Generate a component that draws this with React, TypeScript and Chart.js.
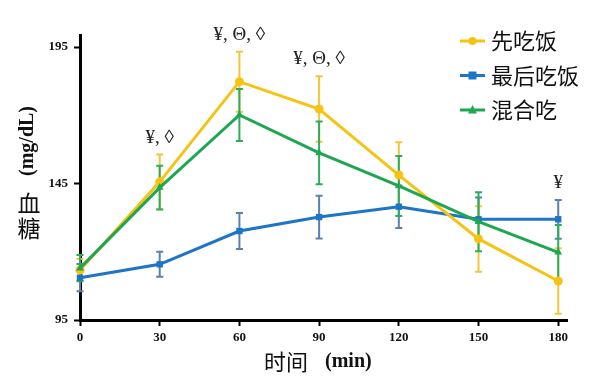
import { useEffect, useRef } from 'react';
import { Chart, registerables } from 'chart.js';
Chart.register(...registerables);

const timePoints = [0, 30, 60, 90, 120, 150, 180];
const yTicks = [95, 145, 195];
const seriesNames = ['先吃饭', '最后吃饭', '混合吃'];
const riceFirst = [113.3, 145.6, 182.3, 172.3, 148.1, 124.7, 109.3];
const riceFirstErr = [4, 10, 11, 12, 12, 12, 12];
const riceLast = [110.5, 115.4, 127.6, 132.7, 136.5, 131.9, 131.9];
const riceLastErr = [5, 4.6, 6.6, 7.8, 7.8, 8, 7.1];
const mixed = [114, 143.5, 170.1, 156.2, 144.1, 131, 119.8];
const mixedErr = [4.8, 8, 9.5, 11.5, 11, 10.8, 10];
const sigLabels = ['', '¥, ◊', '¥, Θ, ◊', '¥, Θ, ◊', '', '', '¥'];

const COLORS = ['#F5C314', '#1C75C6', '#1EA650'];
const ERR_COLORS = ['#F2C63A', '#5A7FB0', '#2BAE5C'];
const SHAPES = ['circle', 'rect', 'triangle'];
const SERIES = [riceFirst, riceLast, mixed];
const ERRS = [riceFirstErr, riceLastErr, mixedErr];

const SERIF = '"Liberation Serif", "Times New Roman", serif';
const CJK = '"Noto Sans CJK SC", "Noto Sans", sans-serif';

function drawMarker(ctx: CanvasRenderingContext2D, shape: string, x: number, y: number, color: string) {
  ctx.save();
  ctx.fillStyle = color;
  ctx.beginPath();
  if (shape === 'circle') {
    ctx.arc(x, y, 4, 0, Math.PI * 2);
  } else if (shape === 'rect') {
    ctx.rect(x - 4, y - 4, 8, 8);
  } else {
    ctx.moveTo(x, y - 5);
    ctx.lineTo(x + 4.5, y + 3.5);
    ctx.lineTo(x - 4.5, y + 3.5);
    ctx.closePath();
  }
  ctx.fill();
  ctx.restore();
}

const errorBarPlugin = {
  id: 'errorBars',
  beforeDatasetsDraw(chart: any) {
    const ctx = chart.ctx as CanvasRenderingContext2D;
    const xs = chart.scales.x;
    const ys = chart.scales.y;
    const drawOrder = [1, 0, 2];
    ctx.save();
    drawOrder.forEach((si) => {
      ctx.strokeStyle = ERR_COLORS[si];
      ctx.lineWidth = 2;
      SERIES[si].forEach((v, i) => {
        const x = xs.getPixelForValue(timePoints[i]);
        const top = ys.getPixelForValue(v + ERRS[si][i]);
        const bot = ys.getPixelForValue(v - ERRS[si][i]);
        ctx.beginPath();
        ctx.moveTo(x, top);
        ctx.lineTo(x, bot);
        ctx.moveTo(x - 3.5, top);
        ctx.lineTo(x + 3.5, top);
        ctx.moveTo(x - 3.5, bot);
        ctx.lineTo(x + 3.5, bot);
        ctx.stroke();
      });
    });
    ctx.restore();
  },
};

const decorPlugin = {
  id: 'decor',
  afterDraw(chart: any) {
    const ctx = chart.ctx as CanvasRenderingContext2D;
    const xs = chart.scales.x;
    const ys = chart.scales.y;
    ctx.save();
    // significance labels
    ctx.fillStyle = '#222';
    ctx.font = `19px ${SERIF}`;
    ctx.textAlign = 'center';
    ctx.textBaseline = 'middle';
    sigLabels.forEach((t, i) => {
      if (!t) return;
      let top = Infinity;
      SERIES.forEach((s, si) => {
        top = Math.min(top, ys.getPixelForValue(s[i] + ERRS[si][i]));
      });
      ctx.fillText(t, xs.getPixelForValue(timePoints[i]), top - 17);
    });

    // legend
    seriesNames.forEach((name, i) => {
      const y = 41 + i * 34.5;
      ctx.strokeStyle = COLORS[i];
      ctx.lineWidth = 3;
      ctx.beginPath();
      ctx.moveTo(460, y);
      ctx.lineTo(485, y);
      ctx.stroke();
      drawMarker(ctx, SHAPES[i], 472.5, y, COLORS[i]);
      ctx.fillStyle = '#111';
      ctx.font = `22px ${CJK}`;
      ctx.textAlign = 'left';
      ctx.textBaseline = 'middle';
      ctx.fillText(name, 491, y);
    });

    // y title
    ctx.fillStyle = '#111';
    ctx.save();
    ctx.translate(28, 141);
    ctx.rotate(-Math.PI / 2);
    ctx.font = `bold 20px ${SERIF}`;
    ctx.textAlign = 'center';
    ctx.textBaseline = 'middle';
    ctx.fillText('(mg/dL)', 0, 0);
    ctx.restore();
    ctx.font = `23px ${CJK}`;
    ctx.textAlign = 'center';
    ctx.textBaseline = 'middle';
    ctx.fillText('血', 29, 203);
    ctx.fillText('糖', 29, 228);

    // x title
    ctx.font = `22px ${CJK}`;
    ctx.textAlign = 'right';
    ctx.fillText('时间', 308, 362);
    ctx.font = `bold 20px ${SERIF}`;
    ctx.textAlign = 'left';
    ctx.fillText('(min)', 325, 362);
    ctx.restore();
  },
};

export default function App() {
  const ref = useRef<HTMLCanvasElement>(null);
  useEffect(() => {
    document.body.style.margin = '0';
    const datasets = SERIES.map((s, si) => ({
      label: seriesNames[si],
      data: s.map((v, i) => ({ x: timePoints[i], y: v })),
      borderColor: COLORS[si],
      backgroundColor: COLORS[si],
      borderWidth: 3,
      pointStyle: SHAPES[si] as any,
      pointRadius: 4.5,
      pointBorderWidth: 0,
      pointBackgroundColor: COLORS[si],
      tension: 0,
      clip: false as any,
      order: [1, 2, 0][si],
    }));
    const tickFont = { family: SERIF, weight: 'bold' as const, size: 13 };
    const chart = new Chart(ref.current!, {
      type: 'line',
      data: { datasets },
      options: {
        responsive: false,
        animation: false,
        devicePixelRatio: 1,
        layout: { padding: { top: 35, right: 33, left: 0, bottom: 0 } },
        plugins: { legend: { display: false }, tooltip: { enabled: false } },
        scales: {
          x: {
            type: 'linear',
            min: 0,
            max: 183.3,
            afterBuildTicks: (s: any) => {
              s.ticks = timePoints.map((v) => ({ value: v }));
            },
            afterFit: (s: any) => {
              s.height = 62;
            },
            ticks: { font: tickFont, color: '#111', padding: 4, maxRotation: 0, autoSkip: false },
            grid: { display: true, drawOnChartArea: false, drawTicks: true, tickLength: 6, tickWidth: 2, color: '#000' },
            border: { display: true, color: '#000', width: 3 },
          },
          y: {
            type: 'linear',
            min: 95,
            max: 199.4,
            afterBuildTicks: (s: any) => {
              s.ticks = yTicks.map((v) => ({ value: v }));
            },
            afterFit: (s: any) => {
              s.width = 80;
            },
            ticks: { font: tickFont, color: '#111', padding: 6, autoSkip: false },
            grid: { display: true, drawOnChartArea: false, drawTicks: true, tickLength: 6, tickWidth: 2, color: '#000' },
            border: { display: true, color: '#000', width: 3 },
          },
        },
      },
      plugins: [errorBarPlugin, decorPlugin],
    });
    return () => chart.destroy();
  }, []);
  return (
    <div style={{ width: 600, height: 382, background: '#fff' }}>
      <canvas ref={ref} width={600} height={382} style={{ display: 'block' }} />
    </div>
  );
}
